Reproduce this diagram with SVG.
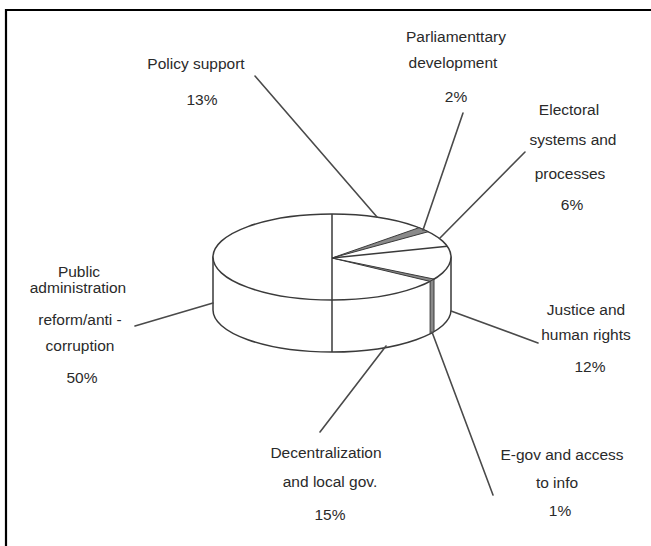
<svg xmlns="http://www.w3.org/2000/svg" width="651" height="546" viewBox="0 0 651 546">
<style>
text{font-family:"Liberation Sans",Arial,sans-serif;font-size:15.5px;fill:#2a2a2a;text-anchor:middle}
.pie{fill:#fff;stroke:#3a3a3a;stroke-width:1.5;stroke-linejoin:round}
.edge{fill:none;stroke:#3a3a3a;stroke-width:1.5}
.lead{fill:none;stroke:#4a4a4a;stroke-width:1.6;stroke-linecap:round}
.thin{fill:#8a8a8a;stroke:#3a3a3a;stroke-width:1}
</style>
<rect width="651" height="546" fill="#fff"/>
<g id="frame" fill="none" stroke="#000" stroke-width="2.2">
<path d="M6,546 V10 H651"/>
</g>
<g id="pie">
<path class="pie" d="M213,257 L213,310 A119,42 0 0 0 451,310 L451,257 Z"/>
<ellipse class="pie" cx="332" cy="257" rx="119" ry="43"/>
<path class="thin" d="M332,258 L419,227.7 L428.3,231.7 Z"/>
<path class="thin" d="M332,258 L434,279.1 L430.1,281.4 Z" fill="#b0b0b0"/>
<path class="thin" d="M434,279.1 L434,331.6 L430.1,333.8 L430.1,281.4 Z"/>
<path class="edge" d="M332,214 V352"/>
<path class="edge" d="M332,258 L447.3,246.3"/>
</g>
<g id="connectors" class="lead">
<path class="lead" d="M255,76 L377,217"/>
<path class="lead" d="M463,113 L423,230"/>
<path class="lead" d="M525,152 L440,238"/>
<path class="lead" d="M451,311 L538,343"/>
<path class="lead" d="M432,332 L493,495"/>
<path class="lead" d="M386,346 L320,432"/>
<path class="lead" d="M135,326 L213,303"/>
</g>
<g id="policy-support">
<text x="196" y="69">Policy support</text>
<text x="202" y="105">13%</text>
</g>
<g id="parliamentary">
<text x="456" y="42">Parliamenttary</text>
<text x="453" y="68">development</text>
<text x="456" y="102">2%</text>
</g>
<g id="electoral">
<text x="569" y="115">Electoral</text>
<text x="573" y="145">systems and</text>
<text x="570" y="179">processes</text>
<text x="572" y="210">6%</text>
</g>
<g id="justice">
<text x="586" y="315">Justice and</text>
<text x="586" y="340">human rights</text>
<text x="590" y="372">12%</text>
</g>
<g id="egov">
<text x="562" y="460">E-gov and access</text>
<text x="557" y="488">to info</text>
<text x="560" y="516">1%</text>
</g>
<g id="decentralization">
<text x="326" y="458">Decentralization</text>
<text x="330" y="487">and local gov.</text>
<text x="330" y="520">15%</text>
</g>
<g id="public-admin">
<text x="79" y="277">Public</text>
<text x="78" y="293">administration</text>
<text x="80" y="325">reform/anti -</text>
<text x="80" y="351">corruption</text>
<text x="82" y="383">50%</text>
</g>
</svg>
